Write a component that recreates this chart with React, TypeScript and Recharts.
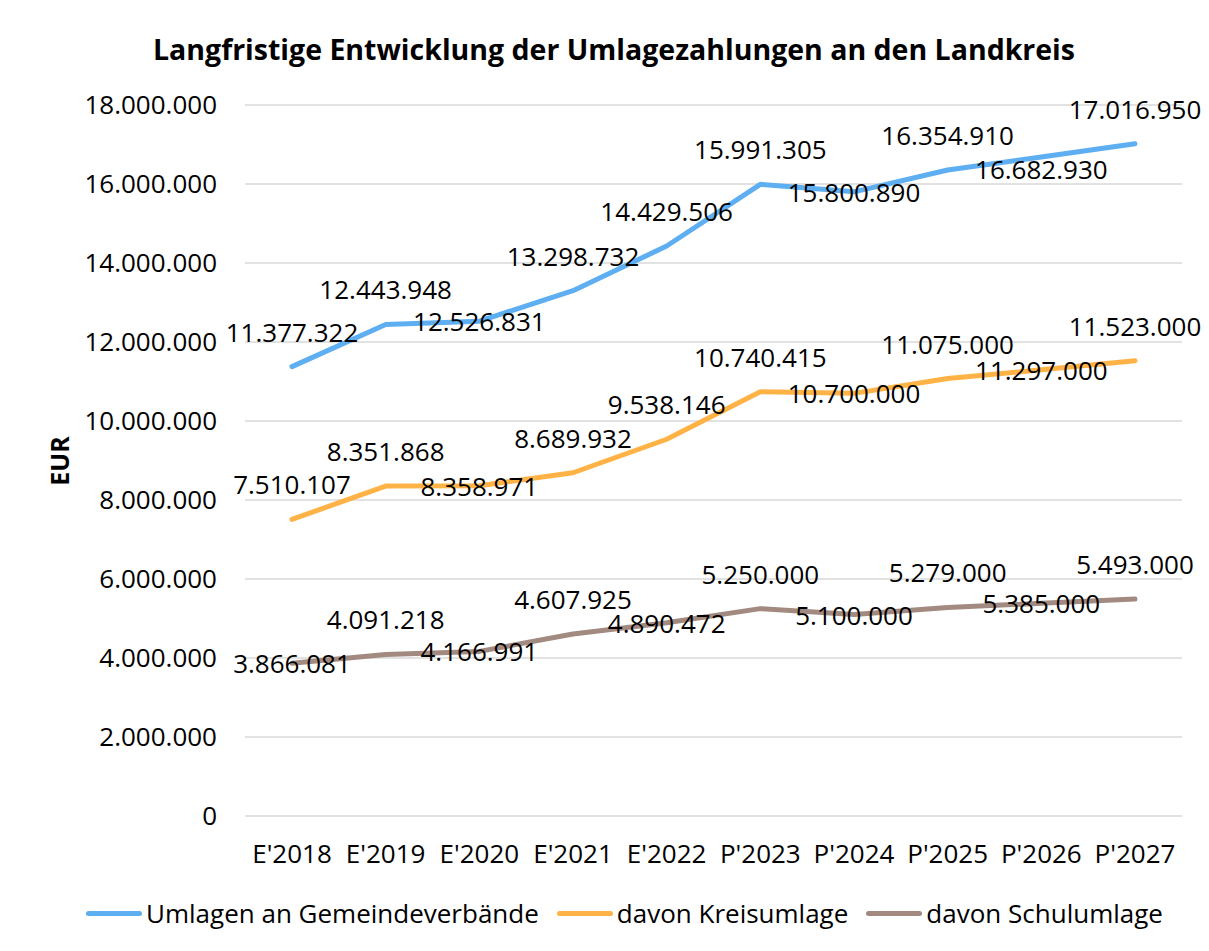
import { LineChart, Line, XAxis, YAxis, CartesianGrid, Legend, LabelList } from 'recharts';

const years = ["E'2018", "E'2019", "E'2020", "E'2021", "E'2022", "P'2023", "P'2024", "P'2025", "P'2026", "P'2027"];
const umlagen = [11377322, 12443948, 12526831, 13298732, 14429506, 15991305, 15800890, 16354910, 16682930, 17016950];
const kreisumlage = [7510107, 8351868, 8358971, 8689932, 9538146, 10740415, 10700000, 11075000, 11297000, 11523000];
const schulumlage = [3866081, 4091218, 4166991, 4607925, 4890472, 5250000, 5100000, 5279000, 5385000, 5493000];
const yTicks = [0, 2000000, 4000000, 6000000, 8000000, 10000000, 12000000, 14000000, 16000000, 18000000];

const data = years.map((year, i) => ({
    year,
    umlagen: umlagen[i],
    kreis: kreisumlage[i],
    schul: schulumlage[i],
}));

// label placement like in the original Excel chart: 'a' = above, 'c' = on the point, 'b' = a bit below
const placeUmlagen = ['a', 'a', 'c', 'a', 'a', 'a', 'c', 'a', 'b', 'a'];
const placeKreis = ['a', 'a', 'c', 'a', 'a', 'a', 'c', 'a', 'c', 'a'];
const placeSchul = ['c', 'a', 'c', 'a', 'c', 'a', 'c', 'a', 'c', 'a'];

const series = [
    { key: 'umlagen', name: 'Umlagen an Gemeindeverbände', color: '#5EAEF2', place: placeUmlagen },
    { key: 'kreis', name: 'davon Kreisumlage', color: '#FFB347', place: placeKreis },
    { key: 'schul', name: 'davon Schulumlage', color: '#A38A80', place: placeSchul },
];

const fmt = (v: number) => String(v).replace(/\B(?=(\d{3})+(?!\d))/g, '.');

const FONT = '"Open Sans", sans-serif';
const OFFSETS: Record<string, number> = { a: -35, c: 0, b: 12 };

const makeLabel = (place: string[]) => (props: any) => {
    const { x, y, value, index } = props;
    const dy = OFFSETS[place[index]] ?? 0;
    return (
        <text x={x} y={y + dy} textAnchor="middle" dominantBaseline="central" fontSize={26} fill="#000" fontFamily={FONT}>
            {fmt(value)}
        </text>
    );
};

const LegendContent = () => (
    <div style={{ display: 'flex', justifyContent: 'flex-start', alignItems: 'center', height: 70, paddingLeft: 78, paddingTop: 4, fontFamily: FONT, fontSize: 26, color: '#000' }}>
        {series.map(s => (
            <div key={s.key} style={{ display: 'flex', alignItems: 'center', marginRight: 18 }}>
                <span style={{ display: 'inline-block', width: 56, height: 5, borderRadius: 3, background: s.color, marginRight: 4 }} />
                <span>{s.name}</span>
            </div>
        ))}
    </div>
);

export default function App() {
    return (
        <div style={{ position: 'relative', left: -1, top: -1, width: 1212, height: 960, border: '1px solid #d9d9d9', boxSizing: 'border-box', background: '#fff', fontFamily: FONT }}>
            <div style={{ position: 'absolute', top: 22, left: 0, width: 1212, textAlign: 'center', fontWeight: 700, fontSize: 28.5, color: '#000' }}>
                Langfristige Entwicklung der Umlagezahlungen an den Landkreis
            </div>
            <div style={{ position: 'absolute', left: 51, top: 453, transform: 'translate(-50%, -50%) rotate(-90deg)', fontWeight: 700, fontSize: 25, color: '#000' }}>
                EUR
            </div>
            <LineChart width={1200} height={936} data={data} margin={{ top: 97, right: 26, bottom: 0, left: 0 }} style={{ fontFamily: FONT }}>
                <CartesianGrid vertical={false} stroke="#d9d9d9" strokeWidth={1.5} />
                <XAxis
                    dataKey="year"
                    height={58}
                    padding={{ left: 47, right: 47 }}
                    axisLine={false}
                    tickLine={false}
                    tickSize={0}
                    tickMargin={29}
                    interval={0}
                    tick={{ fontSize: 26, fill: '#000' }}
                />
                <YAxis
                    width={237}
                    domain={[0, 18000000]}
                    ticks={yTicks}
                    interval={0}
                    axisLine={false}
                    tickLine={false}
                    tickSize={0}
                    tickMargin={28}
                    tickFormatter={fmt}
                    tick={{ fontSize: 26, fill: '#000' }}
                />
                <Legend verticalAlign="bottom" height={70} content={<LegendContent />} />
                {series.map(s => (
                    <Line
                        key={s.key}
                        type="linear"
                        dataKey={s.key}
                        name={s.name}
                        stroke={s.color}
                        strokeWidth={5}
                        strokeLinecap="round"
                        strokeLinejoin="round"
                        dot={false}
                        activeDot={false}
                        isAnimationActive={false}
                    >
                        <LabelList dataKey={s.key} content={makeLabel(s.place)} />
                    </Line>
                ))}
            </LineChart>
        </div>
    );
}
